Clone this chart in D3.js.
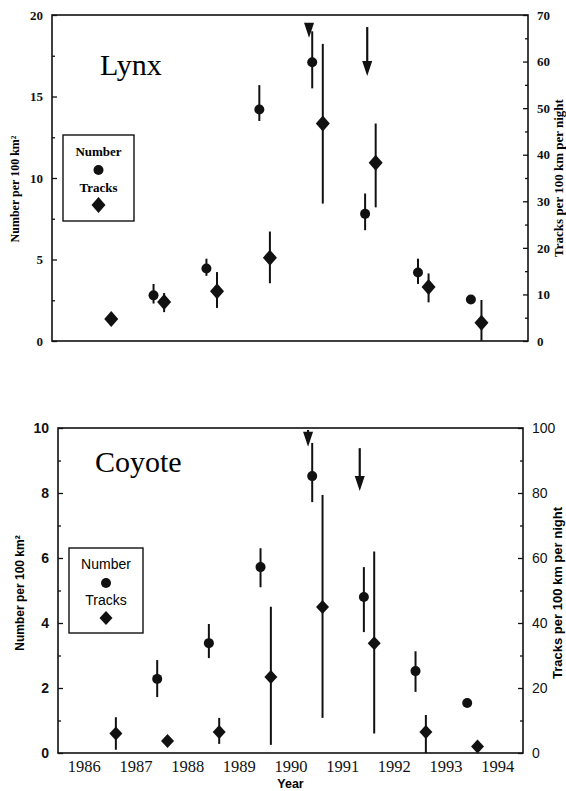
<!DOCTYPE html>
<html>
<head>
<meta charset="utf-8">
<script src="https://cdn.jsdelivr.net/npm/d3@7/dist/d3.min.js"></script>
<style>
body { margin: 0; background: #fff; }
svg { display: block; }
</style>
</head>
<body>
<svg width="566" height="791"></svg>
<script>
// winter survey seasons (label year of each season)
var seasons = [1986, 1987, 1988, 1989, 1990, 1991, 1992, 1993];
var yearLabels = [1986, 1987, 1988, 1989, 1990, 1991, 1992, 1993, 1994];

// lynx - number per 100 km2 (left axis) with error bars
var lynxNumber = [null, 2.8, 4.45, 14.2, 17.1, 7.8, 4.2, 2.55];
var lynxNumberLo = [null, 2.3, 4.0, 13.5, 15.5, 6.8, 3.5, 2.5];
var lynxNumberHi = [null, 3.5, 5.05, 15.7, 19.0, 9.05, 5.05, 2.6];
// lynx - tracks per 100 km per night (right axis)
var lynxTracks = [4.7, 8.4, 10.7, 17.9, 46.7, 38.3, 11.6, 3.9];
var lynxTracksLo = [4.7, 6.2, 7.1, 12.4, 29.5, 28.7, 8.3, 0];
var lynxTracksHi = [4.7, 10.3, 14.8, 23.5, 63.8, 46.7, 14.5, 8.8];
// arrows (year, top and tip in left axis units)
var lynxArrows = [{ year: 1990.36, top: 19.5, tip: 18.6 }, { year: 1991.46, top: 19.26, tip: 16.26 }];

// coyote
var coyoteNumber = [null, 2.28, 3.38, 5.72, 8.52, 4.8, 2.52, 1.54];
var coyoteNumberLo = [null, 1.72, 2.92, 5.1, 7.72, 3.72, 1.88, 1.54];
var coyoteNumberHi = [null, 2.86, 3.97, 6.3, 9.54, 5.72, 3.13, 1.54];
var coyoteTracks = [6, 3.7, 6.5, 23.4, 44.9, 33.8, 6.5, 2];
var coyoteTracksLo = [1, 3.7, 2.8, 2.5, 10.8, 6, 0, 2];
var coyoteTracksHi = [11, 3.7, 10.8, 45, 79.4, 62, 11.7, 2];
var coyoteArrows = [{ year: 1990.34, top: 9.94, tip: 9.42 }, { year: 1991.34, top: 9.38, tip: 8.06 }];

var serif = "'Liberation Serif', 'Times New Roman', serif";
var sans = "'Liberation Sans', Arial, sans-serif";

var svg = d3.select('svg');

var panels = [
    {
        title: 'Lynx', left: 52, right: 528, top: 15, bottom: 341,
        leftMax: 20, leftTicks: [0, 5, 10, 15, 20], leftMinor: [2.5, 7.5, 12.5, 17.5],
        rightMax: 70, rightTicks: [0, 10, 20, 30, 40, 50, 60, 70], rightMinor: [5, 15, 25, 35, 45, 55, 65],
        number: lynxNumber, numberLo: lynxNumberLo, numberHi: lynxNumberHi,
        tracks: lynxTracks, tracksLo: lynxTracksLo, tracksHi: lynxTracksHi,
        arrows: lynxArrows,
        tickFont: serif, tickWeight: 'bold', tickSize: 13,
        rightFont: serif, rightWeight: 'bold',
        titleX: 100, titleY: 75,
        legend: { x: 63, y: 135, w: 71, h: 86, font: serif, weight: 'bold', size: 13 },
        leftLabel: { x: 19, y: 189, font: serif, size: 12 },
        rightLabel: { x: 563, y: 178, font: serif, size: 13 },
        diamond: [7, 8],
        showYears: false
    },
    {
        title: 'Coyote', left: 58, right: 523, top: 428, bottom: 753,
        leftMax: 10, leftTicks: [0, 2, 4, 6, 8, 10], leftMinor: [1, 3, 5, 7, 9],
        rightMax: 100, rightTicks: [0, 20, 40, 60, 80, 100], rightMinor: [10, 30, 50, 70, 90],
        number: coyoteNumber, numberLo: coyoteNumberLo, numberHi: coyoteNumberHi,
        tracks: coyoteTracks, tracksLo: coyoteTracksLo, tracksHi: coyoteTracksHi,
        arrows: coyoteArrows,
        tickFont: sans, tickWeight: 'bold', tickSize: 14,
        rightFont: sans, rightWeight: 'normal',
        titleX: 95, titleY: 472,
        legend: { x: 69, y: 548, w: 74, h: 85, font: sans, weight: 'normal', size: 14 },
        leftLabel: { x: 24, y: 593, font: sans, size: 12 },
        rightLabel: { x: 562, y: 593, font: sans, size: 13 },
        diamond: [6.5, 7],
        showYears: true
    }
];

panels.forEach(drawPanel);

function diamondPath(cx, cy, hw, hh) {
    return 'M' + cx + ',' + (cy - hh) + 'L' + (cx + hw) + ',' + cy +
        'L' + cx + ',' + (cy + hh) + 'L' + (cx - hw) + ',' + cy + 'Z';
}

function drawPanel(p) {
    var x = d3.scaleLinear().domain([1985.5, 1994.5]).range([p.left, p.right]);
    var yL = d3.scaleLinear().domain([0, p.leftMax]).range([p.bottom, p.top]);
    var yR = d3.scaleLinear().domain([0, p.rightMax]).range([p.bottom, p.top]);
    var g = svg.append('g');

    // frame
    g.append('rect')
        .attr('x', p.left).attr('y', p.top)
        .attr('width', p.right - p.left).attr('height', p.bottom - p.top)
        .attr('fill', 'none').attr('stroke', '#111').attr('stroke-width', 1.6);

    // left axis, ticks inward
    var la = g.append('g').attr('transform', 'translate(' + p.left + ',0)')
        .call(d3.axisLeft(yL).tickValues(p.leftTicks).tickSize(-5).tickSizeOuter(0).tickPadding(9));
    g.append('g').attr('transform', 'translate(' + p.left + ',0)')
        .call(d3.axisLeft(yL).tickValues(p.leftMinor).tickSize(-3).tickSizeOuter(0).tickFormat(''));
    // right axis
    var ra = g.append('g').attr('transform', 'translate(' + p.right + ',0)')
        .call(d3.axisRight(yR).tickValues(p.rightTicks).tickSize(-5).tickSizeOuter(0).tickPadding(9));
    g.append('g').attr('transform', 'translate(' + p.right + ',0)')
        .call(d3.axisRight(yR).tickValues(p.rightMinor).tickSize(-3).tickSizeOuter(0).tickFormat(''));

    g.selectAll('.domain').remove();
    g.selectAll('.tick line').attr('stroke', '#111').attr('stroke-width', 1.3);
    la.selectAll('text').attr('font-family', p.tickFont).attr('font-weight', p.tickWeight)
        .attr('font-size', p.tickSize).attr('fill', '#111');
    ra.selectAll('text').attr('font-family', p.rightFont).attr('font-weight', p.rightWeight)
        .attr('font-size', p.tickSize).attr('fill', '#111');

    if (p.showYears) {
        var xa = g.append('g').attr('transform', 'translate(0,' + p.bottom + ')')
            .call(d3.axisBottom(x).tickValues(yearLabels).tickSize(0).tickPadding(7).tickFormat(d3.format('d')));
        xa.select('.domain').remove();
        xa.selectAll('text').attr('font-family', serif).attr('font-size', 16.5).attr('fill', '#111');
        g.append('text')
            .attr('x', x(1990)).attr('y', 788)
            .attr('text-anchor', 'middle')
            .attr('font-family', sans).attr('font-weight', 'bold').attr('font-size', 12.5)
            .text('Year');
    }

    // axis titles
    g.append('text')
        .attr('transform', 'translate(' + p.leftLabel.x + ',' + p.leftLabel.y + ') rotate(-90)')
        .attr('text-anchor', 'middle')
        .attr('font-family', p.leftLabel.font).attr('font-weight', 'bold').attr('font-size', p.leftLabel.size)
        .text('Number per 100 km²');
    g.append('text')
        .attr('transform', 'translate(' + p.rightLabel.x + ',' + p.rightLabel.y + ') rotate(-90)')
        .attr('text-anchor', 'middle')
        .attr('font-family', p.rightLabel.font).attr('font-weight', 'bold').attr('font-size', p.rightLabel.size)
        .text('Tracks per 100 km per night');

    // panel title
    g.append('text')
        .attr('x', p.titleX).attr('y', p.titleY)
        .attr('font-family', serif).attr('font-size', 30)
        .text(p.title);

    // legend
    var lg = p.legend;
    var cx = lg.x + lg.w / 2;
    g.append('rect')
        .attr('x', lg.x).attr('y', lg.y).attr('width', lg.w).attr('height', lg.h)
        .attr('fill', 'none').attr('stroke', '#111').attr('stroke-width', 1.4);
    g.append('text').attr('x', cx).attr('y', lg.y + 21).attr('text-anchor', 'middle')
        .attr('font-family', lg.font).attr('font-weight', lg.weight).attr('font-size', lg.size)
        .text('Number');
    g.append('circle').attr('cx', cx).attr('cy', lg.y + 35).attr('r', 5).attr('fill', '#111');
    g.append('text').attr('x', cx).attr('y', lg.y + 57).attr('text-anchor', 'middle')
        .attr('font-family', lg.font).attr('font-weight', lg.weight).attr('font-size', lg.size)
        .text('Tracks');
    g.append('path').attr('d', diamondPath(cx, lg.y + 70, p.diamond[0], p.diamond[1])).attr('fill', '#111');

    // number series: circles at season + 0.42
    var numData = seasons.map(function (s, i) {
        return { x: s + 0.42, v: p.number[i], lo: p.numberLo[i], hi: p.numberHi[i] };
    }).filter(function (d) { return d.v != null; });

    g.selectAll('.numErr')
        .data(numData)
        .enter()
        .append('line')
        .attr('x1', function (d) { return x(d.x); })
        .attr('x2', function (d) { return x(d.x); })
        .attr('y1', function (d) { return yL(d.lo); })
        .attr('y2', function (d) { return yL(d.hi); })
        .attr('stroke', '#111').attr('stroke-width', 2);

    g.selectAll('.numPt')
        .data(numData)
        .enter()
        .append('circle')
        .attr('cx', function (d) { return x(d.x); })
        .attr('cy', function (d) { return yL(d.v); })
        .attr('r', 5)
        .attr('fill', '#111');

    // tracks series: diamonds at season + 0.62
    var trkData = seasons.map(function (s, i) {
        return { x: s + 0.62, v: p.tracks[i], lo: p.tracksLo[i], hi: p.tracksHi[i] };
    });

    g.selectAll('.trkErr')
        .data(trkData)
        .enter()
        .append('line')
        .attr('x1', function (d) { return x(d.x); })
        .attr('x2', function (d) { return x(d.x); })
        .attr('y1', function (d) { return yR(d.lo); })
        .attr('y2', function (d) { return yR(d.hi); })
        .attr('stroke', '#111').attr('stroke-width', 2);

    g.selectAll('.trkPt')
        .data(trkData)
        .enter()
        .append('path')
        .attr('d', function (d) { return diamondPath(x(d.x), yR(d.v), p.diamond[0], p.diamond[1]); })
        .attr('fill', '#111');

    // arrows
    p.arrows.forEach(function (a) {
        var ax = x(a.year);
        var tipY = yL(a.tip);
        var baseY = tipY - 15;
        if (yL(a.top) < baseY) {
            g.append('line')
                .attr('x1', ax).attr('x2', ax)
                .attr('y1', yL(a.top)).attr('y2', baseY + 1)
                .attr('stroke', '#111').attr('stroke-width', 2.2);
        }
        g.append('path')
            .attr('d', 'M' + (ax - 5) + ',' + baseY + 'L' + (ax + 5) + ',' + baseY + 'L' + ax + ',' + tipY + 'Z')
            .attr('fill', '#111');
    });
}
</script>
</body>
</html>
